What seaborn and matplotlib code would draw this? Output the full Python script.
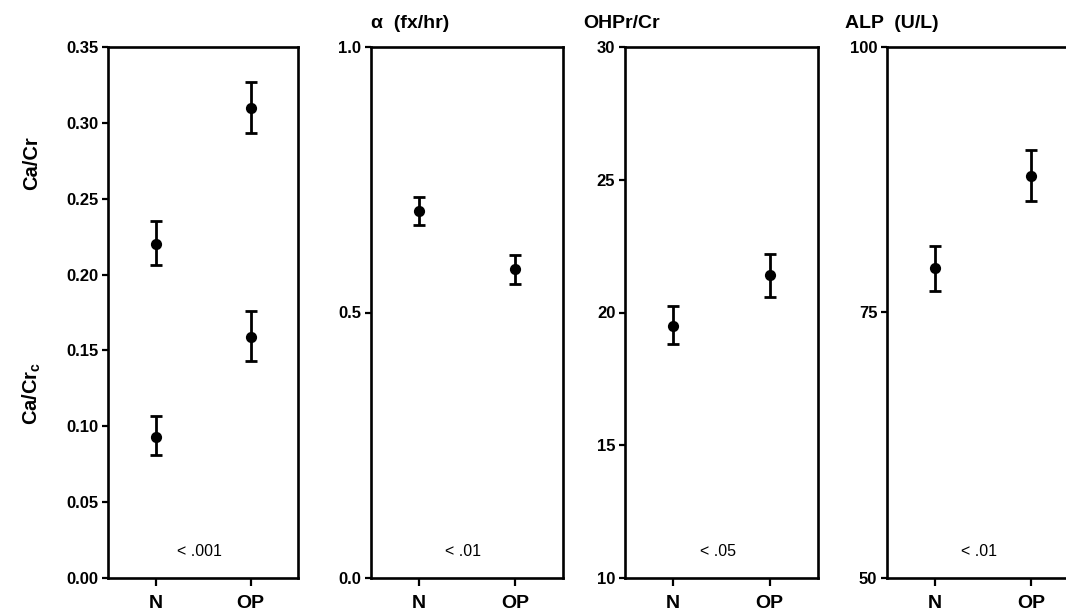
import numpy as np
import pandas as pd
import matplotlib
matplotlib.use('Agg')
import matplotlib.pyplot as plt
import seaborn as sns

# groups on the x axis
groups = ['N', 'OP']

# panel 1: Ca/Cr (upper pair) and Ca/Cr_c (lower pair)
ca_cr = [0.220, 0.310]
ca_cr_lo = [0.206, 0.293]
ca_cr_hi = [0.235, 0.327]
ca_crc = [0.093, 0.159]
ca_crc_lo = [0.081, 0.143]
ca_crc_hi = [0.107, 0.176]

# panel 2: alpha (fx/hr)
alpha = [0.692, 0.581]
alpha_lo = [0.664, 0.553]
alpha_hi = [0.718, 0.608]

# panel 3: OHPr/Cr
ohpr = [19.5, 21.4]
ohpr_lo = [18.8, 20.6]
ohpr_hi = [20.25, 22.2]

# panel 4: ALP (U/L)
alp = [79.2, 87.9]
alp_lo = [77.0, 85.5]
alp_hi = [81.3, 90.3]

p_values = ['< .001', '< .01', '< .05', '< .01']
titles = ['', 'α  (fx/hr)', 'OHPr/Cr', 'ALP  (U/L)']
y_ticks = [np.arange(0, 0.351, 0.05), [0, 0.5, 1.0], [10, 15, 20, 25, 30], [50, 75, 100]]
y_fmt = ['{:.2f}', '{:.1f}', '{:.0f}', '{:.0f}']

sns.set_style('ticks')
plt.rcParams['font.family'] = ['Liberation Sans', 'DejaVu Sans']
plt.rcParams['font.weight'] = 'bold'
plt.rcParams['mathtext.fontset'] = 'custom'
plt.rcParams['mathtext.bf'] = 'Liberation Sans:bold'
plt.rcParams['mathtext.rm'] = 'Liberation Sans:bold'
for k in ['text.color', 'axes.labelcolor', 'xtick.color', 'ytick.color', 'axes.edgecolor']:
    plt.rcParams[k] = 'black'

W, H = 1066, 615
fig = plt.figure(figsize=(W / 100, H / 100), dpi=100)

lefts = [108, 371, 625, 887]
widths = [190, 192, 193, 192]
top, bottom = 47, 578


def draw_pair(ax, vals, lo, hi):
    df = pd.DataFrame({'group': groups, 'value': vals})
    sns.scatterplot(data=df, x='group', y='value', color='black', s=65,
                    edgecolor='black', linewidth=0, ax=ax, zorder=3)
    ax.errorbar([0, 1], vals, yerr=[np.subtract(vals, lo), np.subtract(hi, vals)],
                fmt='none', ecolor='black', elinewidth=2, capsize=4.5, capthick=2)


series = [[(ca_cr, ca_cr_lo, ca_cr_hi), (ca_crc, ca_crc_lo, ca_crc_hi)],
          [(alpha, alpha_lo, alpha_hi)],
          [(ohpr, ohpr_lo, ohpr_hi)],
          [(alp, alp_lo, alp_hi)]]

for i in range(4):
    ax = fig.add_axes([lefts[i] / W, 1 - bottom / H, widths[i] / W, (bottom - top) / H])
    for vals, lo, hi in series[i]:
        draw_pair(ax, vals, lo, hi)
    ax.set_xlim(-0.5, 1.5)
    ax.set_ylim(y_ticks[i][0], y_ticks[i][-1])
    ax.set_yticks(y_ticks[i])
    ax.set_yticklabels([y_fmt[i].format(v) for v in y_ticks[i]], fontsize=12, fontweight='bold')
    ax.set_xticks([0, 1])
    ax.set_xticklabels(groups, fontsize=14, fontweight='bold')
    ax.set_xlabel('')
    ax.set_ylabel('')
    for s in ax.spines.values():
        s.set_linewidth(1.9)
        s.set_visible(True)
    ax.tick_params(axis='y', direction='out', length=4, width=1.6, pad=3)
    ax.tick_params(axis='x', direction='out', length=6, width=1.6, pad=6)
    ax.text(0.48, 0.05, p_values[i], transform=ax.transAxes, ha='center', va='center',
            fontsize=11.5, fontweight='normal')
    if titles[i]:
        fig.text((lefts[i] - (0 if i == 1 else 42)) / W, 1 - 24 / H, titles[i],
                 ha='left', va='center', fontsize=14, fontweight='bold')

fig.text(32 / W, 1 - 163 / H, 'Ca/Cr', rotation=90, ha='center', va='center',
         fontsize=14.5, fontweight='bold')
fig.text(32 / W, 1 - 393 / H, r'Ca/Cr$_\mathbf{c}$', rotation=90, ha='center', va='center',
         fontsize=14.5, fontweight='bold')

fig.savefig('out.png', dpi=100)
